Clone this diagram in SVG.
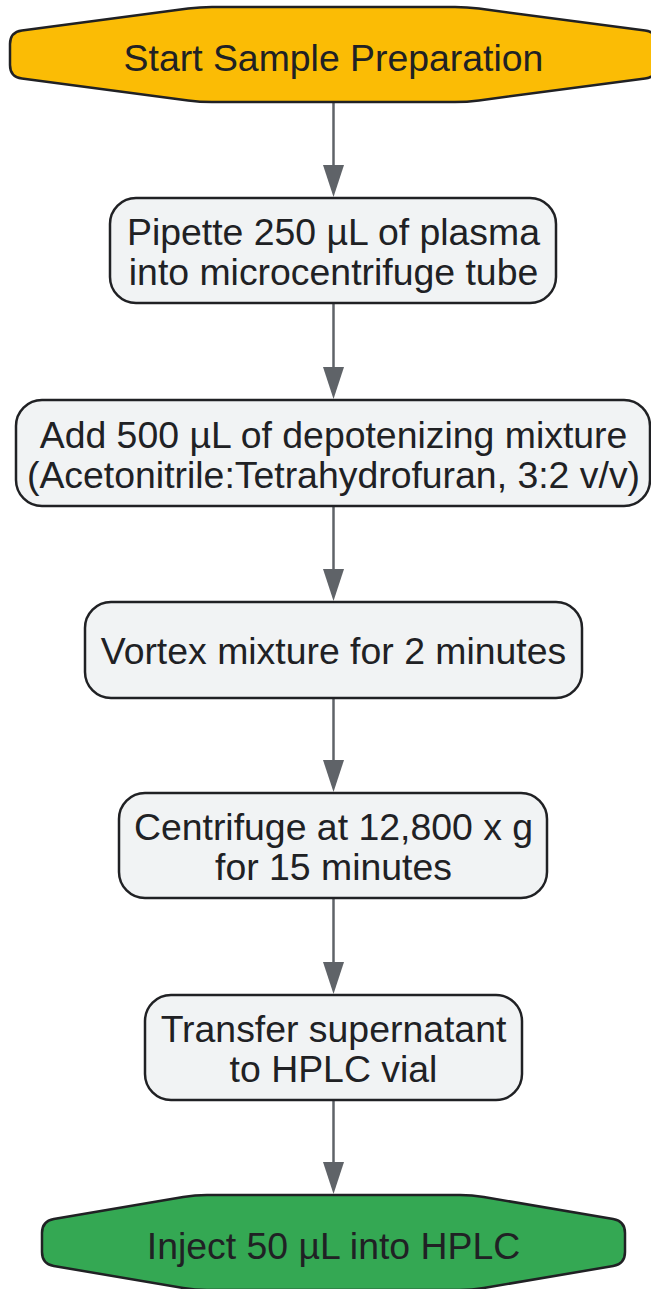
<svg xmlns="http://www.w3.org/2000/svg" width="651" height="1289" viewBox="0 0 651 1289">
<defs>
<marker id="ah" viewBox="0 0 32 21" refX="22" refY="10.5" markerWidth="32" markerHeight="21" markerUnits="userSpaceOnUse" orient="auto">
<path d="M0,0 L32,10.5 L0,21 Z" fill="#5f6368"/>
</marker>
<style>
.box{fill:#f1f3f4;stroke:#202124;stroke-width:2.5}
.start{fill:#fbbc05;stroke:#202124;stroke-width:2.5}
.end{fill:#34a853;stroke:#202124;stroke-width:2.5}
.lbl{font-family:"Liberation Sans",Arial,sans-serif;font-size:37.4px;fill:#202124;text-anchor:middle}
.edge{stroke:#5f6368;stroke-width:2.5;fill:none;marker-end:url(#ah)}
</style>
</defs>
<rect width="651" height="1289" fill="#ffffff"/>
<g id="connectors">
<path class="edge" d="M333.5,102 L333.5,187"/>
<path class="edge" d="M333.5,303 L333.5,389"/>
<path class="edge" d="M333.5,506 L333.5,591"/>
<path class="edge" d="M333.5,698 L333.5,782"/>
<path class="edge" d="M333.5,898 L333.5,984"/>
<path class="edge" d="M333.5,1100 L333.5,1184"/>
</g>
<g id="start">
<path class="start" d="M10,44 Q10,32 21.9,30.4 L188.1,8.57 Q200,7 212,7 L455,7 Q467,7 478.9,8.57 L645.1,30.4 Q657,32 657,44 L657,65 Q657,77 645.1,78.6 L478.9,100.4 Q467,102 455,102 L212,102 Q200,102 188.1,100.4 L21.9,78.6 Q10,77 10,65 Z"/>
<text class="lbl" x="333.5" y="71">Start Sample Preparation</text>
</g>
<g id="pipette">
<rect class="box" x="110" y="198" width="446" height="105" rx="26"/>
<text class="lbl" x="333.5" y="245">Pipette 250 µL of plasma</text>
<text class="lbl" x="333.5" y="285">into microcentrifuge tube</text>
</g>
<g id="add">
<rect class="box" x="16" y="400" width="634" height="106" rx="26"/>
<text class="lbl" x="333.5" y="448">Add 500 µL of depotenizing mixture</text>
<text class="lbl" x="333.5" y="488">(Acetonitrile:Tetrahydrofuran, 3:2 v/v)</text>
</g>
<g id="vortex">
<rect class="box" x="85" y="602" width="497" height="96" rx="26"/>
<text class="lbl" x="333.5" y="664">Vortex mixture for 2 minutes</text>
</g>
<g id="centrifuge">
<rect class="box" x="119" y="793" width="428" height="105" rx="26"/>
<text class="lbl" x="333.5" y="840">Centrifuge at 12,800 x g</text>
<text class="lbl" x="333.5" y="880">for 15 minutes</text>
</g>
<g id="transfer">
<rect class="box" x="145" y="995" width="377" height="105" rx="26"/>
<text class="lbl" x="333.5" y="1042">Transfer supernatant</text>
<text class="lbl" x="333.5" y="1082">to HPLC vial</text>
</g>
<g id="inject">
<path class="end" d="M42,1233 Q42,1221 53.8,1219 L183.2,1197 Q195,1195 207,1195 L460,1195 Q472,1195 483.8,1197 L613.2,1219 Q625,1221 625,1233 L625,1252 Q625,1264 613.2,1266 L483.8,1288 Q472,1290 460,1290 L207,1290 Q195,1290 183.2,1288 L53.8,1266 Q42,1264 42,1252 Z"/>
<text class="lbl" x="333.5" y="1259">Inject 50 µL into HPLC</text>
</g>
</svg>
